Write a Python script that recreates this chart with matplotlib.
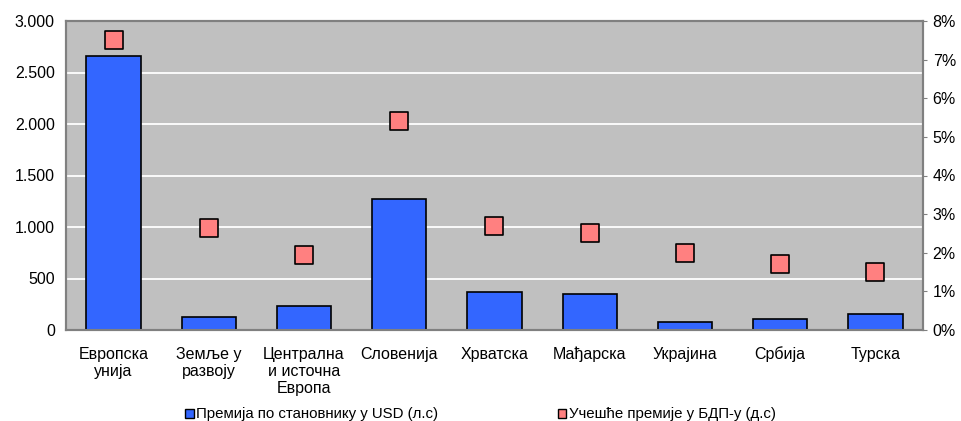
import matplotlib
matplotlib.use("Agg")
import matplotlib.pyplot as plt
import numpy as np
from matplotlib.ticker import FuncFormatter

plt.rcParams['font.family'] = ['Liberation Sans', 'DejaVu Sans']

categories = ["Европска\nунија", "Земље у\nразвоју", "Централна\nи источна\nЕвропа",
              "Словенија", "Хрватска", "Мађарска", "Украјина", "Србија", "Турска"]
premium_per_capita = [2660, 126, 233, 1272, 369, 347, 75, 107, 158]
premium_share_gdp = [7.5, 2.65, 1.95, 5.4, 2.7, 2.5, 2.0, 1.7, 1.5]

fig = plt.figure(figsize=(9.62, 4.21), dpi=100)
ax = fig.add_axes([66/962, 1 - 330/421, (923-66)/962, (330-21)/421])
ax.set_facecolor("#c0c0c0")

x = np.arange(len(categories))
ax.bar(x, premium_per_capita, width=0.57, color="#3366ff", edgecolor="black",
       linewidth=1.2, zorder=3)
ax.set_ylim(0, 3000)
ax.set_yticks(np.arange(0, 3001, 500))
ax.yaxis.set_major_formatter(FuncFormatter(lambda v, p: f"{int(v):,}".replace(",", ".")))
ax.set_xlim(-0.5, len(categories) - 0.5)
ax.set_xticks(x)
ax.set_xticklabels(categories, fontsize=11.5, linespacing=1.2)
ax.tick_params(axis="x", length=0, pad=12)
ax.tick_params(axis="y", length=0, labelsize=11.5, pad=8)
ax.grid(axis="y", color="white", linewidth=1.3, zorder=1)
for s in ax.spines.values():
    s.set_color("#808080")
    s.set_linewidth(1.5)

ax2 = ax.twinx()
ax2.scatter(x, premium_share_gdp, marker="s", s=150, color="#ff8080",
            edgecolor="black", linewidth=1.2, zorder=4)
ax2.set_ylim(0, 8)
ax2.set_yticks(np.arange(0, 9, 1))
ax2.yaxis.set_major_formatter(FuncFormatter(lambda v, p: f"{int(v)}%"))
ax2.tick_params(axis="y", length=3, color="#808080", labelsize=11.5, pad=4)
for s in ax2.spines.values():
    s.set_color("#808080")
    s.set_linewidth(1.5)

h1 = plt.Rectangle((0, 0), 1, 1, facecolor="#3366ff", edgecolor="black", linewidth=1)
h2 = plt.Rectangle((0, 0), 1, 1, facecolor="#ff8080", edgecolor="black", linewidth=1)
fig.legend([h1, h2], ["Премија по становнику у USD (л.с)", "Учешће премије у БДП-у (д.с)"],
           loc="lower center", bbox_to_anchor=(0.4995, -0.033), ncol=2, frameon=False,
           fontsize=10.8, handlelength=0.55, handleheight=0.55, handletextpad=0.15,
           columnspacing=8.0)

fig.savefig("out.png", dpi=100)
